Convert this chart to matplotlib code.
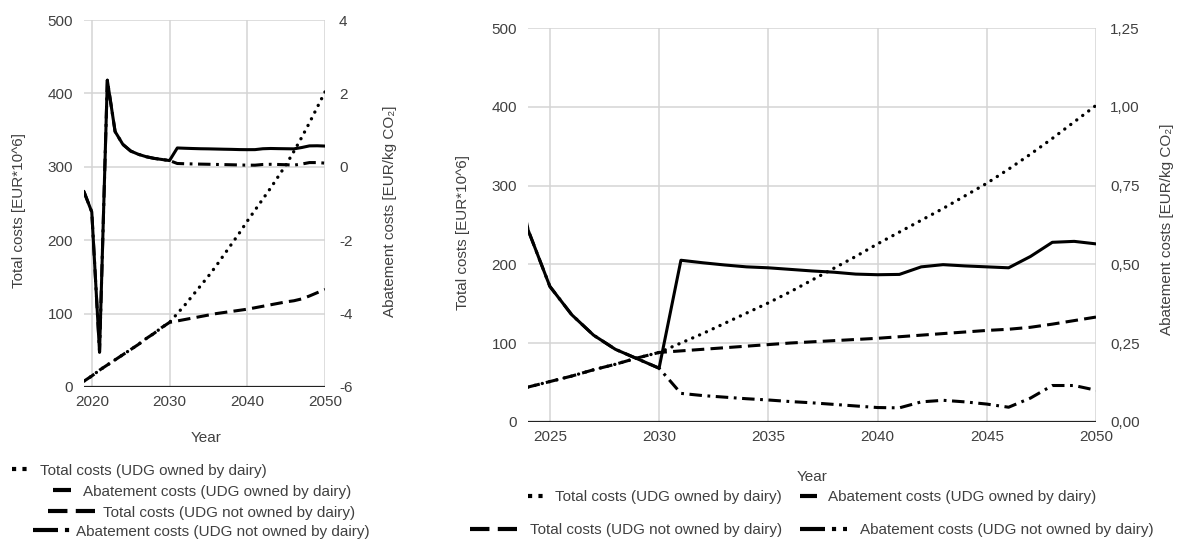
import matplotlib
matplotlib.use("Agg")
import matplotlib.pyplot as plt
from matplotlib.lines import Line2D
from matplotlib.ticker import FuncFormatter
from matplotlib import font_manager as fm

plt.rcParams['lines.scale_dashes'] = False

# ---------------- data ----------------
years = list(range(2019, 2051))
total_owned = [8, 15, 23, 30, 37, 44, 51, 58, 66, 73, 81, 88,
               100, 112, 125, 138, 151, 165, 180, 195, 210, 226,
               241, 256, 271, 287, 303, 321, 340, 360, 381, 402]
total_not_owned = [8, 15, 23, 30, 37, 44, 51, 58, 66, 73, 81, 88,
                   90, 92, 94, 96, 98, 100, 101.5, 103, 104.5, 106,
                   108, 110, 112, 114, 116, 117.5, 120, 124, 128.5, 133]
abate_owned = [-0.68, -1.23, -5.05, 2.36, 0.96, 0.61, 0.43, 0.34, 0.275, 0.23, 0.20, 0.17,
               0.513, 0.505, 0.498, 0.492, 0.489, 0.484, 0.479, 0.475, 0.469, 0.467,
               0.468, 0.492, 0.499, 0.495, 0.492, 0.489, 0.525, 0.57, 0.573, 0.565]
abate_not_owned = [-0.68, -1.23, -5.05, 2.36, 0.96, 0.61, 0.43, 0.34, 0.275, 0.23, 0.20, 0.17,
                   0.09, 0.083, 0.078, 0.073, 0.069, 0.064, 0.06, 0.055, 0.05, 0.045,
                   0.044, 0.063, 0.068, 0.063, 0.056, 0.046, 0.075, 0.115, 0.115, 0.10]

labels = ["Total costs (UDG owned by dairy)",
          "Abatement costs (UDG owned by dairy)",
          "Total costs (UDG not owned by dairy)",
          "Abatement costs (UDG not owned by dairy)"]

left_xticks = [2020, 2030, 2040, 2050]
left_yticks = [0, 100, 200, 300, 400, 500]
left_rticks = [-6, -4, -2, 0, 2, 4]
right_xticks = [2025, 2030, 2035, 2040, 2045, 2050]
right_yticks = [0, 100, 200, 300, 400, 500]
right_rticks = [0.0, 0.25, 0.5, 0.75, 1.0, 1.25]

# ---------------- style ----------------
TXT = '#404040'
GRID = '#d4d4d4'
FS = 11
FP = fm.FontProperties(family=['Liberation Sans', 'DejaVu Sans'], size=FS)

styles = {
    'dot': dict(color='black', lw=2.4, linestyle=(0, (0.1, 5.3)), dash_capstyle='round'),
    'solid': dict(color='black', lw=2.2, linestyle='-', solid_joinstyle='round'),
    'dash': dict(color='black', lw=2.2, linestyle=(0, (9, 4.5)), dash_capstyle='butt'),
    'dashdot': dict(color='black', lw=2.2, linestyle=(0, (9, 4, 2, 4)), dash_capstyle='butt'),
}

W, H = 1179, 540
fig = plt.figure(figsize=(W / 100, H / 100), dpi=100)


def fx(x):
    return x / W


def fy(y):
    return 1 - y / H


def make_panel(rect, xlim, xticks, yticks, rticks, rfmt, pad_l, pad_r):
    ax = fig.add_axes(rect)
    ax2 = ax.twinx()
    ax.set_xlim(*xlim)
    ax.set_ylim(0, 500)
    ax2.set_ylim(rticks[0], rticks[-1])
    ax.set_xticks(xticks)
    ax.set_yticks(yticks)
    ax2.set_yticks(rticks)
    ax2.yaxis.set_major_formatter(FuncFormatter(rfmt))
    ax.grid(True, color=GRID, lw=1.1)
    ax.set_axisbelow(True)
    for a in (ax, ax2):
        for s in ('left', 'right', 'top', 'bottom'):
            a.spines[s].set_visible(False)
        a.tick_params(length=0, colors=TXT)
        for lab in a.get_xticklabels() + a.get_yticklabels():
            lab.set_fontproperties(FP)
    ax.tick_params(axis='y', pad=pad_l)
    ax2.tick_params(axis='y', pad=pad_r)
    ax.tick_params(axis='x', pad=6)
    ax.axhline(0, color='#222222', lw=1.6, zorder=5)
    ax.plot(years, total_owned, **styles['dot'], zorder=3)
    ax.plot(years, total_not_owned, **styles['dash'], zorder=3)
    ax2.plot(years, abate_not_owned, **styles['dashdot'], zorder=3)
    ax2.plot(years, abate_owned, **styles['solid'], zorder=4)
    return ax, ax2


axL, axL2 = make_panel([fx(84), fy(387), fx(325 - 84), (387 - 20) / H], (2019, 2050),
                       left_xticks, left_yticks, left_rticks,
                       lambda v, p: f"{v:.0f}", 8, 10)
axR, axR2 = make_panel([fx(528), fy(421.7), fx(1096 - 528), (421.7 - 28.3) / H], (2024, 2050),
                       right_xticks, right_yticks, right_rticks,
                       lambda v, p: f"{v:.2f}".replace('.', ','), 8, 10)

# axis titles
fig.text(fx(19), fy(211), "Total costs [EUR*10^6]", rotation=90, ha='center', va='center',
         color=TXT, fontproperties=FP)
fig.text(fx(390), fy(211), "Abatement costs [EUR/kg CO\u2082]", rotation=90, ha='center', va='center',
         color=TXT, fontproperties=FP)
fig.text(fx(206), fy(438), "Year", ha='center', va='center', color=TXT, fontproperties=FP)

fig.text(fx(463), fy(232), "Total costs [EUR*10^6]", rotation=90, ha='center', va='center',
         color=TXT, fontproperties=FP)
fig.text(fx(1167), fy(229), "Abatement costs [EUR/kg CO\u2082]", rotation=90, ha='center', va='center',
         color=TXT, fontproperties=FP)
fig.text(fx(812), fy(477), "Year", ha='center', va='center', color=TXT, fontproperties=FP)

# legend handles
h_dot = Line2D([], [], color='black', lw=3, linestyle=(0, (3, 4.5)), dash_capstyle='butt')
h_solid = Line2D([], [], color='black', lw=3, linestyle='-', solid_capstyle='butt')
h_dash = Line2D([], [], color='black', lw=3, linestyle=(0, (14, 6)), dash_capstyle='butt')
h_dashdot = Line2D([], [], color='black', lw=3, linestyle=(0, (18, 5, 3, 5)), dash_capstyle='butt')

common = dict(frameon=False, borderpad=0, borderaxespad=0, labelcolor=TXT, prop=FP)

# left legend: four individually placed rows
left_rows = [(h_dot, labels[0], 12, 470.7, 1.0, 0.8),
             (h_solid, labels[1], 53, 491.7, 1.15, 0.8),
             (h_dash, labels[2], 48, 512.7, 3.1, 0.5),
             (h_dashdot, labels[3], 33, 531.7, 2.4, 0.4)]
for h, lab, x, y, hl, tp in left_rows:
    fig.legend([h], [lab], loc='center left', bbox_to_anchor=(fx(x), fy(y)),
               handlelength=hl, handletextpad=tp, **common)

# right legend: two rows, centred under the right panel
fig.legend([h_dot, h_solid], [labels[0], labels[1]], loc='center', ncol=2,
           bbox_to_anchor=(fx(812), fy(497)), handlelength=1.1, handletextpad=0.72,
           columnspacing=1.2, **common)
fig.legend([h_dash, h_dashdot], [labels[2], labels[3]], loc='center', ncol=2,
           bbox_to_anchor=(fx(812), fy(530)), handlelength=3.05, handletextpad=0.85,
           columnspacing=1.2, **common)

fig.savefig("out.png", dpi=100, facecolor='white')
